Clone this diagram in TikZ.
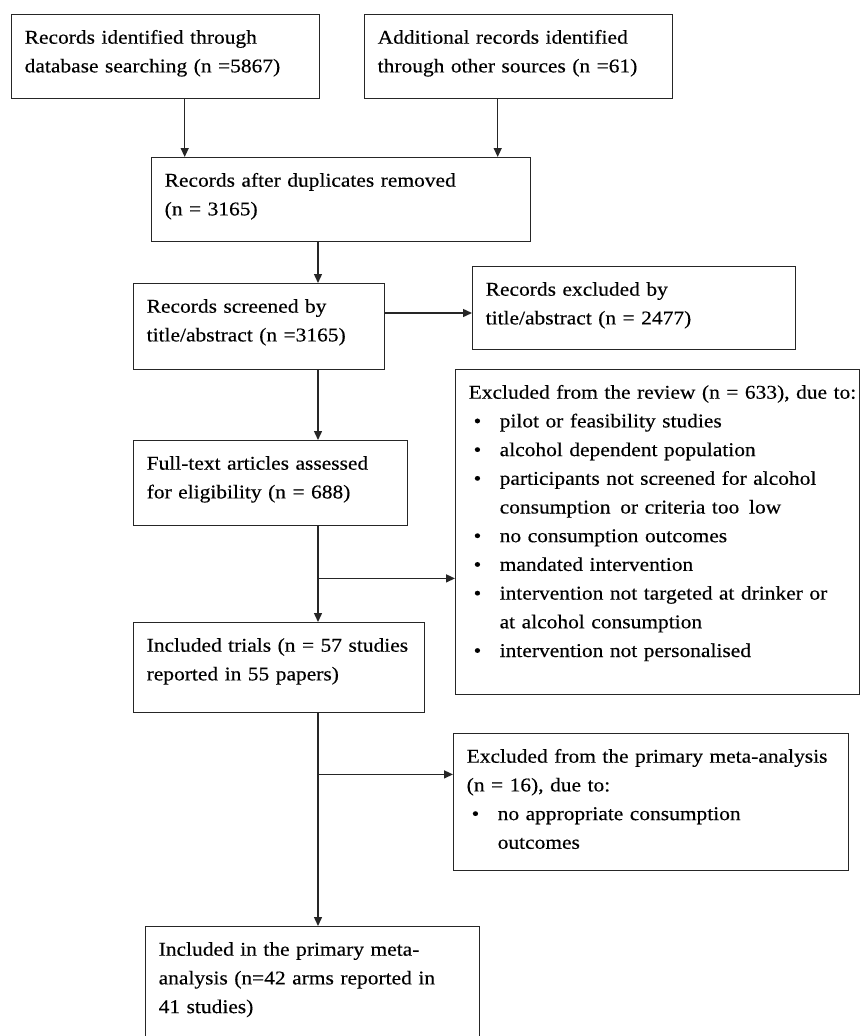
\documentclass[tikz,border=0pt]{standalone}
\usepackage{fontspec}
\setmainfont{Liberation Serif}[FakeStretch=1.1,FakeBold=0.35]
\usetikzlibrary{arrows.meta}

% bullet rows with hanging indent
\newcommand{\bitem}{\makebox[31pt][l]{\hspace{5pt}\textbullet}}
\newcommand{\bcont}{\hspace*{31pt}}

\tikzset{
  flowbox/.style={draw=black!85, line width=1.4pt, anchor=north west, align=left,
    inner xsep=13pt, inner ysep=0pt, text height=29pt,
    font=\fontsize{19.5}{28.7}\selectfont},
  flowline/.style={draw=black!85, line width=1.4pt},
  flowarrow/.style={flowline, -{Triangle[length=9pt,width=8pt]}},
}

\begin{document}
\begin{tikzpicture}[x=1pt,y=-1pt]
  \path[use as bounding box] (0,0) rectangle (861,1036);
  \coordinate (spine) at (318,0);

  % identification
  \node[flowbox, text width=282pt, text depth=55pt] (recdb) at (11,14)
    {Records identified through\\database searching (n =5867)};
  \node[flowbox, text width=282pt, text depth=55pt] (recother) at (364,14)
    {Additional records identified\\through other sources (n =61)};
  \node[flowbox, text width=353pt, text depth=55pt] (dedup) at (151,157)
    {Records after duplicates removed\\(n = 3165)};

  % screening
  \node[flowbox, text width=225pt, text depth=57pt] (screened) at (133,283)
    {Records screened by\\title/abstract (n =3165)};
  \node[flowbox, text width=297pt, text depth=54pt] (exctitle) at (472,266)
    {Records excluded by\\title/abstract (n = 2477)};

  % eligibility
  \node[flowbox, text width=248pt, text depth=56pt] (fulltext) at (133,440)
    {Full-text articles assessed\\for eligibility (n = 688)};
  \node[flowbox, text width=378pt, text depth=296pt] (excreview) at (455,369)
    {\mbox{Excluded from the review (n = 633), due to:}\\
     \bitem pilot or feasibility studies\\
     \bitem alcohol dependent population\\
     \bitem participants not screened for alcohol\\
     \bcont consumption\, or criteria too\, low\\
     \bitem no consumption outcomes\\
     \bitem mandated intervention\\
     \bitem intervention not targeted at drinker or\\
     \bcont at alcohol consumption\\
     \bitem intervention not personalised};

  % included
  \node[flowbox, text width=265pt, text depth=61pt] (trials) at (133,622)
    {\mbox{Included trials (n = 57 studies}\\reported in 55 papers)};
  \node[flowbox, text width=369pt, text depth=108pt] (excmeta) at (453,733)
    {\mbox{Excluded from the primary meta-analysis}\\
     (n = 16), due to:\\
     \bitem no appropriate consumption\\
     \bcont outcomes};
  \node[flowbox, text width=308pt, text depth=85pt] (final) at (145,926)
    {Included in the primary meta-\\analysis (n=42 arms reported in\\41 studies)};

  % connectors
  \draw[flowarrow] ([xshift=19pt]recdb.south) -- ([xshift=19pt]recdb.south |- dedup.north);
  \draw[flowarrow] ([xshift=-21pt]recother.south) -- ([xshift=-21pt]recother.south |- dedup.north);
  \draw[flowarrow] (dedup.south -| spine) -- (screened.north -| spine);
  \draw[flowarrow] ([yshift=-30pt]screened.north east) -- ([yshift=-30pt]screened.north east -| exctitle.west);
  \draw[flowarrow] (screened.south -| spine) -- (fulltext.north -| spine);

  \coordinate (split1) at ([yshift=-52pt]fulltext.south -| spine);
  \draw[flowarrow] (fulltext.south -| spine) -- (trials.north -| spine);
  \draw[flowarrow] (split1) -- (split1 -| excreview.west);

  \coordinate (split2) at ([yshift=-61pt]trials.south -| spine);
  \draw[flowarrow] (trials.south -| spine) -- (final.north -| spine);
  \draw[flowarrow] (split2) -- (split2 -| excmeta.west);
\end{tikzpicture}
\end{document}
